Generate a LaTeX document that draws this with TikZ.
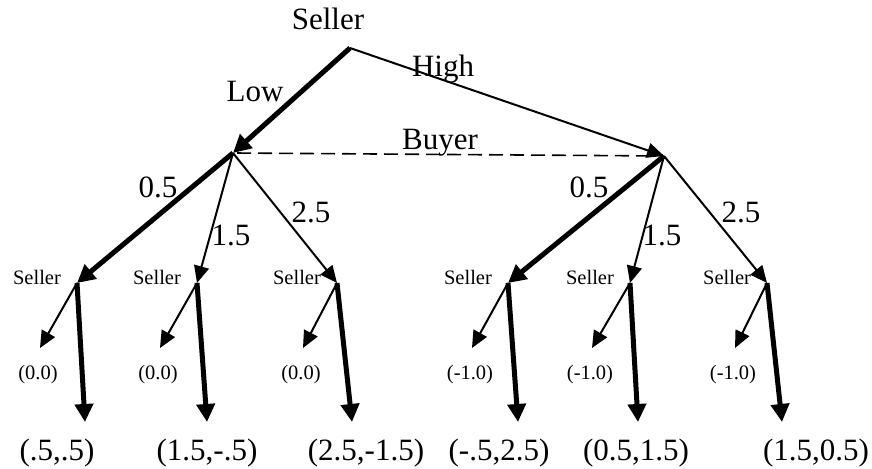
\documentclass[tikz,border=0pt]{standalone}
\usepackage{fontspec}
\setmainfont{Liberation Serif}
\usetikzlibrary{arrows.meta,positioning}

\begin{document}
\begin{tikzpicture}[x=0.5pt,y=-0.5pt,
    move/.style={line width=1pt,-{Triangle[length=8.5pt,width=7.5pt]}},
    eqmove/.style={line width=2.5pt,-{Triangle[length=9pt,width=9pt]}},
    big/.style={font=\fontsize{15.5}{18}\selectfont,inner sep=0pt,anchor=base},
    small/.style={font=\fontsize{10.25}{12}\selectfont,inner sep=0pt,anchor=base}]
    \useasboundingbox (0,0) rectangle (872,469);

    % Decision points of the first two moves
    \coordinate (root) at (350,48);
    \coordinate (lo) at (233,153);
    \coordinate (hi) at (664,156);

    % The six second-move subtrees of the seller: node, reject leaf, accept leaf
    \foreach \i/\sx/\zx/\ex/\px/\zlab/\plab in {
        1/77/40/85/57/{(0.0)}/{(.5,.5)},
        2/197/160/207/207/{(0.0)}/{(1.5,-.5)},
        3/337/303/352/366/{(0.0)}/{(2.5,-1.5)},
        4/508/472/518/499/{(-1.0)}/{(-.5,2.5)},
        5/630/592/638/636/{(-1.0)}/{(0.5,1.5)},
        6/767/735/782/816/{(-1.0)}/{(1.5,0.5)}} {
        \coordinate (s\i) at (\sx,283);
        \coordinate (z\i) at (\zx,348);
        \coordinate (e\i) at (\ex,422);
        \node[small] (sl\i) at (\sx-40,285) {Seller};
        \node[small] (zl\i) at (\zx-2,380) {\zlab};
        \node[big] (pl\i) at (\px,461) {\plab};
        \draw[move] (s\i) -- (z\i);
        \draw[eqmove] (s\i) -- (e\i);
    }

    % Price offers of the seller
    \draw[eqmove] (root) -- (lo);
    \draw[move] (root) -- (hi);

    % Buyer's information set
    \draw[line width=0.8pt, dash pattern=on 7pt off 3.5pt, shorten <=2pt, shorten >=5pt] (lo) -- (hi);

    % Buyer's bids
    \draw[eqmove] (lo) -- (s1);
    \draw[move] (lo) -- (s2);
    \draw[move] (lo) -- (s3);
    \draw[eqmove] (hi) -- (s4);
    \draw[move] (hi) -- (s5);
    \draw[move] (hi) -- (s6);

    % Players and move labels
    \node[big] (seller) at (328,30) {Seller};
    \node[big] (low) at (255,102) {Low};
    \node[big] (high) at (443,77) {High};
    \node[big] (buyer) at (440,150) {Buyer};
    \node[big] (lb1) at (158,198) {0.5};
    \node[big] (lb2) at (231,246) {1.5};
    \node[big] (lb3) at (311,223) {2.5};
    \node[big] (hb1) at (589,198) {0.5};
    \node[big] (hb2) at (662,246) {1.5};
    \node[big] (hb3) at (741,223) {2.5};
\end{tikzpicture}
\end{document}
